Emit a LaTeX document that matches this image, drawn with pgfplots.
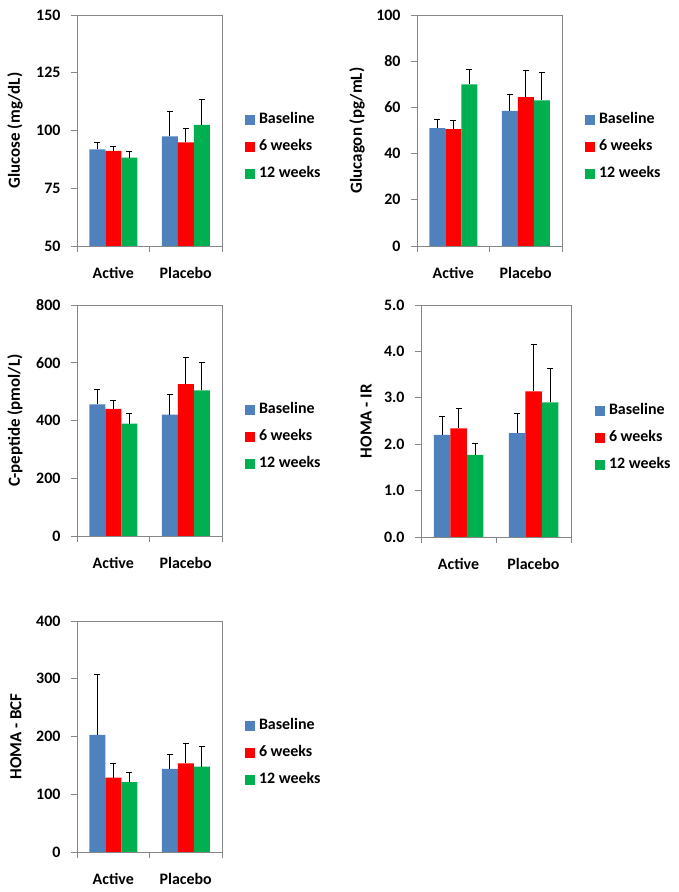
\documentclass[border=0pt]{standalone}
\usepackage{pgfplots}
\pgfplotsset{compat=1.18}
\usepackage{fontspec}
\setmainfont{Carlito}
\definecolor{cB}{HTML}{4F81BD}
\definecolor{cR}{HTML}{FF0000}
\definecolor{cG}{HTML}{00B050}
\definecolor{axgray}{HTML}{868686}
\newcommand{\ff}{\fontsize{16}{19}\selectfont\bfseries}
\newcommand{\fl}{\fontsize{17}{20}\selectfont\bfseries}
\pgfplotsset{
  panel/.style={
    scale only axis, width=145bp, height=231bp,
    ybar=0pt, bar width=16bp,
    xmin=-0.5, xmax=1.5,
    xtick={0,1}, xticklabels={Active,Placebo},
    major x tick style={draw=none},
    minor xtick={-0.5,0.5,1.5},
    tick align=outside, xtick pos=bottom, ytick pos=left,
    major tick length=6bp, minor tick length=6bp,
    axis line style={draw=axgray},
    every tick/.style={draw=axgray, line width=0.8bp},
    tick label style={font=\ff},
    /pgf/number format/assume math mode=true,
    yticklabel style={anchor=east, xshift=-7bp},
    xticklabel style={yshift=-12bp},
    label style={font=\fl},
    ylabel style={at={(axis description cs:0,0.5)}, anchor=center},
    legend style={draw=none, fill=none, font=\ff, inner sep=0pt, outer sep=0pt,
      at={(axis description cs:1,0.4286)}, anchor=west, xshift=23bp,
      row sep=13bp, nodes={inner sep=0pt, text height=11bp, text depth=3bp},
      /tikz/every odd column/.append style={column sep=4bp}},
    legend cell align=left,
    legend image code/.code={\fill[##1] (0bp,-5bp) rectangle (10bp,5bp);},
  },
  sB/.style={fill=cB, draw=none, eb},
  sR/.style={fill=cR, draw=none, eb},
  sG/.style={fill=cG, draw=none, eb},
  eb/.style={
    /pgfplots/error bars/y dir=plus,
    /pgfplots/error bars/y explicit,
    /pgfplots/error bars/error mark=|,
    /pgfplots/error bars/error bar style={black, line width=0.8bp},
    /pgfplots/error bars/error mark options={black, line width=0.8bp, mark size=3bp},
  },
}
\begin{document}
\begin{tikzpicture}[x=1bp,y=1bp]
\useasboundingbox (0,0) rectangle (679,892);
% Glucose
\begin{axis}[panel, at={(77bp,646bp)}, anchor=south west,
  ymin=50, ymax=150, ytick={50,75,100,125,150},
  ylabel={Glucose (mg/dL)}, ylabel style={yshift=62bp}]
\addplot[sB] coordinates {(0,91.8) +- (0,3.0) (1,97.5) +- (0,10.7)};
\addplot[sR] coordinates {(0,91.2) +- (0,1.9) (1,94.9) +- (0,6.0)};
\addplot[sG] coordinates {(0,88.3) +- (0,2.5) (1,102.4) +- (0,11.0)};
\legend{Baseline,6 weeks,12 weeks}
\end{axis}
% Glucagon
\begin{axis}[panel, at={(417bp,646bp)}, anchor=south west,
  ymin=0, ymax=100, ytick={0,20,40,60,80,100},
  ylabel={Glucagon (pg/mL)}, ylabel style={yshift=60bp}]
\addplot[sB] coordinates {(0,51.0) +- (0,3.8) (1,58.5) +- (0,7.3)};
\addplot[sR] coordinates {(0,50.6) +- (0,3.7) (1,64.4) +- (0,11.5)};
\addplot[sG] coordinates {(0,70.0) +- (0,6.6) (1,63.0) +- (0,12.2)};
\legend{Baseline,6 weeks,12 weeks}
\end{axis}
% C-peptide
\begin{axis}[panel, at={(77bp,356bp)}, anchor=south west,
  ymin=0, ymax=800, ytick={0,200,400,600,800},
  ylabel={C-peptide (pmol/L)}, ylabel style={yshift=62bp}]
\addplot[sB] coordinates {(0,456) +- (0,52) (1,420) +- (0,71)};
\addplot[sR] coordinates {(0,440) +- (0,29) (1,526) +- (0,94)};
\addplot[sG] coordinates {(0,389) +- (0,34) (1,504) +- (0,98)};
\legend{Baseline,6 weeks,12 weeks}
\end{axis}
% HOMA-IR
\begin{axis}[panel, at={(421bp,355bp)}, anchor=south west, width=150bp, height=232bp,
  bar width=16.5bp,
  ymin=0, ymax=5, ytick={0,1,2,3,4,5},
  yticklabel style={/pgf/number format/.cd, fixed, fixed zerofill, precision=1},
  ylabel={HOMA - IR}, ylabel style={yshift=55bp},
  legend style={xshift=1bp}]
\addplot[sB] coordinates {(0,2.20) +- (0,0.40) (1,2.24) +- (0,0.42)};
\addplot[sR] coordinates {(0,2.34) +- (0,0.44) (1,3.14) +- (0,1.02)};
\addplot[sG] coordinates {(0,1.77) +- (0,0.24) (1,2.90) +- (0,0.73)};
\legend{Baseline,6 weeks,12 weeks}
\end{axis}
% HOMA-BCF
\begin{axis}[panel, at={(77bp,40bp)}, anchor=south west,
  ymin=0, ymax=400, ytick={0,100,200,300,400},
  ylabel={HOMA - BCF}, ylabel style={yshift=61bp}]
\addplot[sB] coordinates {(0,203) +- (0,104) (1,144) +- (0,25)};
\addplot[sR] coordinates {(0,129) +- (0,24) (1,153.5) +- (0,35)};
\addplot[sG] coordinates {(0,121) +- (0,16) (1,148) +- (0,35)};
\legend{Baseline,6 weeks,12 weeks}
\end{axis}
\end{tikzpicture}
\end{document}
